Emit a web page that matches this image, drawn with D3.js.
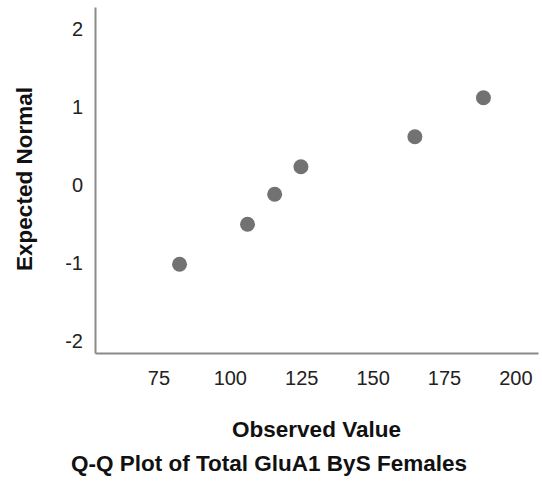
<!DOCTYPE html>
<html>
<head>
<meta charset="utf-8">
<script src="https://cdn.jsdelivr.net/npm/d3@7"></script>
<style>
  html, body { margin: 0; padding: 0; background: #fff; }
  svg { display: block; }
  text { font-family: Arial, "Liberation Sans", sans-serif; }
</style>
</head>
<body>
<svg id="chart" width="542" height="481"></svg>
<script>
// Data
const observedValues = [82.4, 106.2, 115.7, 124.9, 164.8, 188.8];
const expectedNormal = [-1.02, -0.508, -0.124, 0.229, 0.613, 1.113];
const xTicks = [75, 100, 125, 150, 175, 200];
const yTicks = [-2, -1, 0, 1, 2];
const xTitle = "Observed Value";
const yTitle = "Expected Normal";
const chartTitle = "Q-Q Plot of Total GluA1 ByS Females";

const points = observedValues.map((v, i) => ({ x: v, y: expectedNormal[i] }));

const svg = d3.select("#chart");
const margin = { left: 95, top: 7, right: 4, bottom: 128 };
const W = 542, H = 481;
const innerW = W - margin.left - margin.right;   // 443
const innerH = H - margin.top - margin.bottom;   // 346

const x = d3.scaleLinear().domain([52.8, 207.9]).range([0, innerW]);
const y = d3.scaleLinear().domain([-2.156, 2.274]).range([innerH, 0]);

const g = svg.append("g").attr("transform", `translate(${margin.left},${margin.top})`);

const plainFmt = d => String(d);

// X axis
const xAxis = g.append("g")
  .attr("transform", `translate(0,${innerH})`)
  .call(d3.axisBottom(x).tickValues(xTicks).tickFormat(plainFmt).tickSize(0).tickSizeOuter(0).tickPadding(12));
xAxis.select(".domain").attr("stroke", "#8a8a8a").attr("stroke-width", 2);
xAxis.selectAll(".tick text")
  .attr("font-size", "20px").attr("fill", "#222")
  .attr("font-family", "Arial, 'Liberation Sans', sans-serif")
  .attr("dy", null).attr("y", 32);

// Y axis
const yAxis = g.append("g")
  .call(d3.axisLeft(y).tickValues(yTicks).tickFormat(plainFmt).tickSize(0).tickSizeOuter(0).tickPadding(12));
yAxis.select(".domain").attr("stroke", "#8a8a8a").attr("stroke-width", 2);
yAxis.selectAll(".tick text")
  .attr("font-size", "20px").attr("fill", "#222")
  .attr("font-family", "Arial, 'Liberation Sans', sans-serif")
  .attr("dy", "0.35em");

// Points
g.selectAll("circle.pt")
  .data(points)
  .enter().append("circle")
  .attr("class", "pt")
  .attr("cx", d => x(d.x))
  .attr("cy", d => y(d.y))
  .attr("r", 7.5)
  .attr("fill", "#727272");

// Axis titles
svg.append("text")
  .attr("x", margin.left + innerW / 2)
  .attr("y", 436.5)
  .attr("text-anchor", "middle")
  .attr("font-size", "22.5px")
  .attr("font-weight", "bold")
  .attr("fill", "#111")
  .text(xTitle);

svg.append("text")
  .attr("transform", `translate(32,179) rotate(-90)`)
  .attr("text-anchor", "middle")
  .attr("font-size", "22.5px")
  .attr("font-weight", "bold")
  .attr("fill", "#111")
  .text(yTitle);

// Chart title
svg.append("text")
  .attr("x", 269)
  .attr("y", 471)
  .attr("text-anchor", "middle")
  .attr("font-size", "22.5px")
  .attr("font-weight", "bold")
  .attr("fill", "#111")
  .text(chartTitle);
</script>
</body>
</html>
